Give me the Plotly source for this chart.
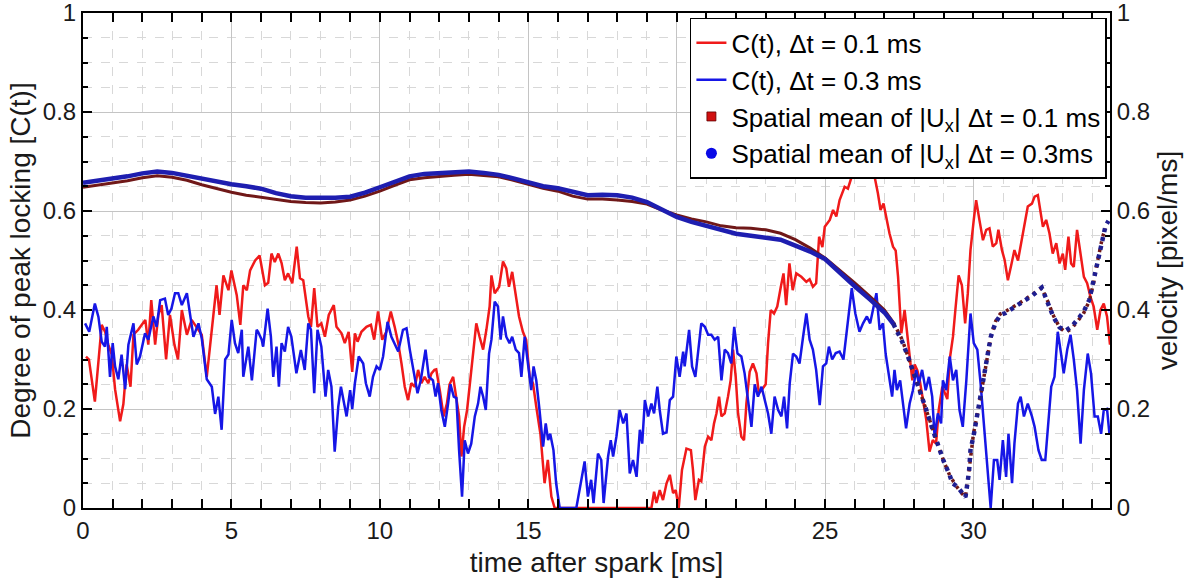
import plotly.graph_objects as go

# ---------------- data ----------------
t_c01 = [0.1,0.2,0.4,0.63,0.75,0.85,0.97,1.08,1.25,1.36,1.47,1.6,1.7,1.86,1.98,2.1,2.2,2.3,2.43,2.54,2.65,2.8,2.93,3.08,3.2,3.33,3.5,3.66,3.83,4.0,
         4.17,4.33,4.5,4.6,4.73,4.9,5.0,5.18,5.3,5.4,5.52,5.63,5.8,5.95,6.13,6.24,6.35,6.46,6.58,6.69,6.8,6.91,7.05,7.2,7.31,7.42,7.59,7.68,7.79,7.9,
         8.03,8.15,8.28,8.45,8.54,8.71,8.82,8.95,9.07,9.16,9.25,9.38,9.55,9.7,9.81,9.94,10.08,10.22,10.37,10.5,10.62,10.73,10.84,10.95,11.06,11.18,11.29,11.4,11.51,11.63,
         11.74,11.84,11.9,12.02,12.15,12.26,12.35,12.47,12.58,12.67,12.75,12.84,12.94,13.05,13.14,13.25,13.36,13.48,13.59,13.7,13.76,13.87,14.02,14.15,14.26,14.35,14.46,14.58,14.69,14.82,
         14.93,15.05,15.16,15.27,15.41,15.55,15.66,15.78,15.89,17.0,18.0,19.15,19.24,19.32,19.43,19.54,19.66,19.77,19.88,19.97,20.07,20.18,20.33,20.48,20.55,20.63,20.75,20.83,20.95,21.06,
         21.17,21.26,21.34,21.43,21.51,21.62,21.73,21.82,21.9,21.99,22.07,22.18,22.27,22.35,22.46,22.57,22.69,22.77,22.86,23.0,23.08,23.17,23.28,23.39,23.51,23.6,23.69,23.8,23.91,24.03,
         24.2,24.37,24.48,24.59,24.7,24.8,24.91,24.99,25.16,25.27,25.38,25.49,25.66,25.77,25.88,25.96,26.1,26.3,26.5,26.67,26.78,26.87,26.97,27.06,27.17,27.29,27.38,27.46,27.57,27.68,
         27.77,27.85,27.94,28.02,28.11,28.19,28.3,28.41,28.52,28.63,28.74,28.83,28.95,29.03,29.12,29.2,29.31,29.39,29.5,29.61,29.72,29.81,29.9,30.01,30.09,30.2,30.32,30.43,30.54,30.65,
         30.77,30.84,30.96,31.05,31.16,31.27,31.38,31.5,31.61,31.72,31.83,31.97,32.06,32.17,32.26,32.34,32.45,32.56,32.67,32.79,32.9,33.01,33.09,33.2,33.29,33.38,33.49,33.6,33.72,33.83,
         33.94,34.05,34.17,34.28,34.39,34.5,34.6]
c01 = [0.306,0.30,0.215,0.37,0.355,0.33,0.31,0.24,0.175,0.21,0.29,0.245,0.35,0.36,0.37,0.38,0.33,0.42,0.33,0.39,0.41,0.30,0.39,0.33,0.30,0.40,0.35,0.38,0.365,0.35,
       0.265,0.36,0.45,0.39,0.47,0.44,0.48,0.43,0.37,0.45,0.44,0.48,0.50,0.51,0.45,0.455,0.514,0.497,0.514,0.495,0.46,0.474,0.454,0.528,0.464,0.46,0.387,0.366,0.444,0.366,
       0.373,0.346,0.39,0.41,0.366,0.353,0.333,0.356,0.275,0.353,0.336,0.356,0.366,0.37,0.34,0.397,0.34,0.356,0.397,0.366,0.333,0.292,0.245,0.218,0.252,0.245,0.279,0.252,0.265,0.252,
       0.272,0.279,0.28,0.238,0.185,0.211,0.25,0.265,0.225,0.185,0.104,0.164,0.198,0.265,0.306,0.373,0.346,0.32,0.36,0.407,0.47,0.434,0.447,0.498,0.484,0.447,0.477,0.434,0.387,0.356,
       0.34,0.265,0.252,0.205,0.15,0.05,0.097,0.023,0.0,0.0,0.0,0.0,0.033,0.01,0.036,0.016,0.05,0.067,0.03,0.036,0.0,0.077,0.12,0.117,0.077,0.016,0.057,0.054,0.124,0.144,
       0.137,0.171,0.191,0.225,0.185,0.191,0.225,0.258,0.32,0.265,0.191,0.144,0.137,0.211,0.275,0.292,0.272,0.232,0.238,0.25,0.333,0.40,0.393,0.407,0.447,0.474,0.41,0.494,0.44,0.474,
       0.467,0.457,0.462,0.447,0.454,0.548,0.527,0.568,0.582,0.602,0.589,0.622,0.649,0.645,0.666,0.676,0.70,0.72,0.70,0.669,0.636,0.602,0.615,0.589,0.555,0.528,0.52,0.467,0.353,0.40,
       0.346,0.306,0.258,0.29,0.278,0.258,0.218,0.178,0.114,0.137,0.13,0.198,0.245,0.232,0.22,0.30,0.346,0.40,0.47,0.45,0.373,0.434,0.521,0.582,0.622,0.582,0.541,0.562,0.565,0.528,
       0.535,0.562,0.521,0.501,0.46,0.49,0.521,0.50,0.535,0.568,0.609,0.615,0.629,0.632,0.602,0.568,0.582,0.555,0.514,0.535,0.494,0.514,0.481,0.548,0.494,0.487,0.562,0.52,0.467,0.454,
       0.427,0.407,0.36,0.40,0.413,0.387,0.33]

t_c03 = [0.07,0.21,0.4,0.52,0.63,0.74,0.8,0.91,1.0,1.08,1.19,1.3,1.42,1.53,1.7,1.81,1.92,2.09,2.2,2.37,2.48,2.6,2.76,2.87,2.98,3.1,3.21,3.33,3.5,3.61,
         3.72,3.89,4.0,4.17,4.34,4.45,4.56,4.67,4.79,4.9,5.01,5.12,5.23,5.35,5.4,5.57,5.69,5.85,5.9,6.02,6.07,6.22,6.33,6.41,6.52,6.6,6.69,6.8,6.91,7.02,
         7.19,7.34,7.47,7.59,7.68,7.79,7.9,8.03,8.17,8.26,8.37,8.48,8.6,8.69,8.8,8.88,9.0,9.07,9.16,9.29,9.44,9.53,9.66,9.77,9.89,10.0,10.11,10.26,10.39,10.5,
         10.62,10.78,10.9,11.01,11.12,11.27,11.38,11.54,11.65,11.79,11.88,11.96,12.07,12.19,12.3,12.38,12.49,12.58,12.67,12.77,12.86,12.97,13.08,13.2,13.31,13.39,13.48,13.57,13.68,13.76,
         13.87,13.98,14.07,14.15,14.26,14.37,14.46,14.58,14.69,14.77,14.88,15.0,15.1,15.18,15.27,15.38,15.5,15.59,15.67,15.74,15.85,15.94,16.06,16.62,16.9,17.01,17.12,17.2,17.35,17.46,
         17.54,17.69,17.78,17.86,17.97,18.08,18.2,18.31,18.42,18.53,18.65,18.76,18.84,18.93,19.04,19.15,19.24,19.35,19.43,19.54,19.66,19.77,19.88,19.99,20.1,20.22,20.27,20.42,20.52,20.63,
         20.72,20.83,20.95,21.06,21.17,21.28,21.4,21.51,21.62,21.73,21.84,21.94,22.05,22.18,22.29,22.41,22.52,22.63,22.74,22.86,22.97,23.08,23.19,23.3,23.42,23.53,23.62,23.72,23.81,23.92,
         24.03,24.14,24.26,24.37,24.48,24.59,24.7,24.82,24.93,25.04,25.13,25.24,25.36,25.49,25.62,25.77,25.9,26.02,26.16,26.28,26.41,26.52,26.63,26.73,26.84,26.95,27.04,27.15,27.26,27.34,
         27.42,27.53,27.62,27.73,27.85,27.96,28.07,28.16,28.27,28.39,28.5,28.61,28.69,28.8,28.91,28.97,29.08,29.2,29.31,29.42,29.53,29.64,29.76,29.9,30.01,30.13,30.24,30.37,30.46,30.58,
         30.69,30.8,30.88,30.99,31.1,31.18,31.3,31.38,31.5,31.59,31.7,31.83,31.97,32.06,32.19,32.3,32.42,32.53,32.62,32.73,32.84,32.95,33.04,33.16,33.27,33.38,33.49,33.61,33.72,33.85,
         33.96,34.08,34.19,34.3,34.39,34.5,34.58]
c03 = [0.373,0.356,0.413,0.386,0.336,0.326,0.366,0.265,0.333,0.286,0.26,0.31,0.24,0.33,0.373,0.29,0.306,0.353,0.34,0.387,0.366,0.42,0.423,0.39,0.403,0.434,0.434,0.41,0.434,0.39,
       0.346,0.373,0.343,0.26,0.245,0.19,0.225,0.158,0.30,0.31,0.38,0.333,0.313,0.36,0.265,0.326,0.258,0.36,0.356,0.34,0.326,0.403,0.346,0.265,0.326,0.245,0.333,0.316,0.366,0.346,
       0.272,0.319,0.279,0.373,0.36,0.232,0.36,0.326,0.225,0.279,0.245,0.114,0.205,0.245,0.211,0.185,0.238,0.20,0.252,0.306,0.292,0.252,0.225,0.265,0.286,0.279,0.306,0.376,0.346,0.33,
       0.316,0.36,0.363,0.32,0.279,0.232,0.258,0.32,0.265,0.258,0.225,0.252,0.198,0.164,0.211,0.25,0.225,0.222,0.117,0.023,0.137,0.11,0.13,0.185,0.211,0.245,0.225,0.198,0.312,0.34,
       0.417,0.407,0.34,0.387,0.346,0.333,0.346,0.32,0.313,0.265,0.346,0.286,0.238,0.286,0.258,0.198,0.124,0.171,0.137,0.15,0.117,0.05,0.0,0.0,0.094,0.023,0.057,0.01,0.11,0.097,
       0.01,0.104,0.137,0.104,0.144,0.198,0.171,0.191,0.07,0.097,0.063,0.158,0.13,0.218,0.185,0.211,0.191,0.245,0.198,0.15,0.153,0.218,0.225,0.306,0.265,0.316,0.286,0.36,0.286,0.265,
       0.32,0.373,0.366,0.35,0.35,0.34,0.346,0.258,0.32,0.313,0.292,0.366,0.312,0.306,0.272,0.211,0.164,0.25,0.225,0.245,0.218,0.191,0.15,0.225,0.198,0.185,0.225,0.161,0.252,0.312,
       0.306,0.292,0.346,0.393,0.34,0.32,0.279,0.208,0.286,0.292,0.326,0.30,0.313,0.316,0.30,0.373,0.444,0.393,0.356,0.373,0.387,0.373,0.407,0.434,0.36,0.373,0.312,0.265,0.225,0.279,
       0.238,0.258,0.211,0.161,0.211,0.238,0.279,0.252,0.279,0.238,0.265,0.225,0.144,0.191,0.171,0.258,0.238,0.306,0.258,0.279,0.198,0.164,0.258,0.393,0.333,0.32,0.252,0.158,0.097,0.0,
       0.097,0.097,0.057,0.137,0.063,0.15,0.05,0.13,0.211,0.225,0.185,0.211,0.185,0.164,0.117,0.097,0.097,0.185,0.245,0.265,0.356,0.312,0.272,0.32,0.35,0.30,0.238,0.13,0.238,0.312,
       0.272,0.185,0.185,0.15,0.198,0.20,0.15]

t_v01 = [0,0.5,1.0,1.5,2.0,2.5,3.0,3.5,4.0,4.5,5.0,5.5,6.0,6.5,7.0,7.5,8.0,8.5,9.0,9.5,10.0,10.5,11.0,11.5,12.0,12.5,13.0,13.5,14.0,14.5,
         15.0,15.5,16.0,16.5,17.0,17.5,18.0,18.5,19.0,19.5,20.0,20.5,21.0,21.5,22.0,22.5,23.0,23.5,24.0,24.5,25.0,25.5,26.0,26.5,27.0,27.3,27.6,27.8,28.0,28.2,
         28.4,28.6,28.8,29.0,29.2,29.4,29.6,29.73,29.85,30.0,30.15,30.3,30.45,30.6,30.75,30.9,31.1,31.5,32.0,32.3,32.5,32.7,32.9,33.1,33.3,33.5,33.7,33.9,34.05,34.15,
         34.25,34.35,34.45]
v01 = [0.648,0.652,0.656,0.661,0.667,0.671,0.668,0.662,0.653,0.645,0.638,0.632,0.628,0.623,0.619,0.617,0.616,0.618,0.622,0.630,0.640,0.652,0.663,0.667,0.670,0.672,0.674,0.672,0.669,0.662,
       0.654,0.646,0.640,0.630,0.624,0.624,0.622,0.619,0.614,0.602,0.592,0.584,0.578,0.570,0.566,0.565,0.562,0.555,0.542,0.525,0.505,0.480,0.455,0.428,0.400,0.375,0.340,0.305,0.27,0.23,
       0.195,0.16,0.125,0.094,0.066,0.046,0.030,0.022,0.075,0.15,0.195,0.25,0.30,0.35,0.378,0.392,0.398,0.412,0.432,0.445,0.418,0.388,0.365,0.355,0.362,0.378,0.392,0.418,0.455,0.49,
       0.52,0.548,0.565]

t_v03 = [0,0.5,1.0,1.5,2.0,2.5,3.0,3.5,4.0,4.5,5.0,5.5,6.0,6.5,7.0,7.5,8.0,8.5,9.0,9.5,10.0,10.5,11.0,11.5,12.0,12.5,13.0,13.5,14.0,14.5,
         15.0,15.5,16.0,16.5,17.0,17.5,18.0,18.5,19.0,19.5,20.0,20.5,21.0,21.5,22.0,22.5,23.0,23.5,24.0,24.5,25.0,25.5,26.0,26.5,27.0,27.3,27.6,27.8,28.0,28.2,
         28.4,28.6,28.8,29.0,29.2,29.29,29.46,29.56,29.73,29.85,29.9,30.02,30.14,30.24,30.36,30.47,30.58,30.74,30.91,31.08,31.5,32.0,32.3,32.5,32.7,32.9,33.1,33.3,33.5,33.7,
         33.9,34.05,34.15,34.25,34.35,34.45,34.55]
v03 = [0.657,0.661,0.666,0.670,0.676,0.680,0.677,0.671,0.664,0.658,0.654,0.650,0.645,0.636,0.630,0.627,0.626,0.627,0.629,0.637,0.648,0.660,0.670,0.675,0.677,0.678,0.680,0.677,0.673,0.666,
       0.657,0.650,0.646,0.638,0.632,0.633,0.632,0.627,0.618,0.603,0.588,0.578,0.570,0.561,0.554,0.550,0.545,0.542,0.530,0.518,0.503,0.474,0.448,0.422,0.395,0.372,0.336,0.305,0.272,0.235,
       0.200,0.163,0.125,0.094,0.066,0.05,0.043,0.036,0.022,0.073,0.117,0.151,0.192,0.232,0.265,0.305,0.345,0.374,0.39,0.394,0.41,0.43,0.445,0.415,0.385,0.365,0.358,0.366,0.38,0.395,
       0.42,0.46,0.49,0.52,0.55,0.57,0.58]

ticks_y = [0, 0.2, 0.4, 0.6, 0.8, 1]
tick_text_y = ["0", "0.2", "0.4", "0.6", "0.8", "1"]
T_SPLIT = 27.3  # after this time the spatial-mean samples appear as separate dots

# ---------------- styles ----------------
RED = "#f01a1a"
BLUE = "#1616e6"
FONT = "Liberation Sans, Arial, Helvetica, sans-serif"
TXT = "#1a1a1a"


def split(ts, vs, t0):
    a = [(t, v) for t, v in zip(ts, vs) if t <= t0]
    b = [(t, v) for t, v in zip(ts, vs) if t >= t0]
    return [p[0] for p in a], [p[1] for p in a], [p[0] for p in b], [p[1] for p in b]


fig = go.Figure()

fig.add_trace(go.Scatter(x=t_c01, y=c01, mode="lines", name="C(t), Δt = 0.1 ms",
                         line=dict(color=RED, width=2.5)))
fig.add_trace(go.Scatter(x=t_c03, y=c03, mode="lines", name="C(t), Δt = 0.3 ms",
                         line=dict(color=BLUE, width=2.5)))

# spatial means (right axis)
ta, va, tb, vb = split(t_v01, v01, T_SPLIT)
fig.add_trace(go.Scatter(x=ta, y=va, mode="lines", yaxis="y2", showlegend=False,
                         line=dict(color="#701818", width=3)))
fig.add_trace(go.Scatter(x=tb, y=vb, mode="lines", yaxis="y2", showlegend=False,
                         line=dict(color="#701818", width=3.5, dash="3px,5px")))
ta, va, tb, vb = split(t_v03, v03, T_SPLIT)
fig.add_trace(go.Scatter(x=ta, y=va, mode="lines", yaxis="y2", showlegend=False,
                         line=dict(color="#1e1eb0", width=4.5)))
fig.add_trace(go.Scatter(x=tb, y=vb, mode="lines", yaxis="y2", showlegend=False,
                         line=dict(color="#1e1e90", width=4.5, dash="4px,5px")))

# legend entries for marker series
fig.add_trace(go.Scatter(x=[None], y=[None], mode="markers", yaxis="y2",
                         name="Spatial mean of |U<sub>x</sub>| Δt = 0.1 ms",
                         marker=dict(symbol="square", size=9, color="#d01010", line=dict(color="#600000", width=0.8))))
fig.add_trace(go.Scatter(x=[None], y=[None], mode="markers", yaxis="y2",
                         name="Spatial mean of |U<sub>x</sub>| Δt = 0.3ms",
                         marker=dict(symbol="circle", size=11, color="#0a0ae6", line=dict(width=0))))

axis_common = dict(
    showline=True, linecolor="black", linewidth=2,
    ticks="inside", ticklen=9, tickwidth=1.5, tickcolor="black",
    tickfont=dict(family=FONT, size=24, color=TXT),
    zeroline=False, automargin=False, ticklabeloverflow="allow",
)
TITLE_FONT = dict(family=FONT, size=28, color=TXT)

fig.update_layout(
    width=1202, height=588,
    margin=dict(l=83, r=92, t=13, b=80, autoexpand=False),
    paper_bgcolor="white", plot_bgcolor="white",
    font=dict(family=FONT, size=24, color=TXT),
    xaxis=dict(
        range=[0, 34.6], tick0=0, dtick=5, mirror="allticks",
        showgrid=True, gridcolor="#c4c4c4", gridwidth=1.2,
        minor=dict(dtick=1, ticks="inside", ticklen=5, tickcolor="black", showgrid=True,
                   gridcolor="#d8d8d8", griddash="dash", gridwidth=1),
        title=dict(text="time after spark [ms]", font=TITLE_FONT, standoff=10),
        **axis_common,
    ),
    yaxis=dict(
        range=[0, 1], tickvals=ticks_y, ticktext=tick_text_y, mirror=False,
        showgrid=True, gridcolor="#c4c4c4", gridwidth=1.2,
        minor=dict(dtick=0.05, tick0=0, ticks="inside", ticklen=5, tickcolor="black", showgrid=True,
                   gridcolor="#d8d8d8", griddash="dash", gridwidth=1),
        title=dict(text="Degree of peak locking [C(t)]", font=TITLE_FONT, standoff=4),
        **axis_common,
    ),
    yaxis2=dict(
        range=[0, 1], tickvals=ticks_y, ticktext=tick_text_y, overlaying="y", side="right",
        showgrid=False,
        minor=dict(dtick=0.05, tick0=0, ticks="inside", ticklen=5, tickcolor="black"),
        title=dict(text="velocity [pixel/ms]", font=TITLE_FONT, standoff=8),
        **axis_common,
    ),
    legend=dict(
        x=0.997, xanchor="right", y=0.99, yanchor="top",
        bgcolor="white", bordercolor="black", borderwidth=1.5,
        font=dict(family=FONT, size=26, color="black"),
        itemwidth=30, tracegroupgap=0, traceorder="normal",
    ),
    showlegend=True,
)

# remove the default 8px page margin so the figure fills the window exactly
fig.write_html("out.html", config={"displayModeBar": False},
               post_script="document.body.style.margin='0';document.body.style.overflow='hidden';")
